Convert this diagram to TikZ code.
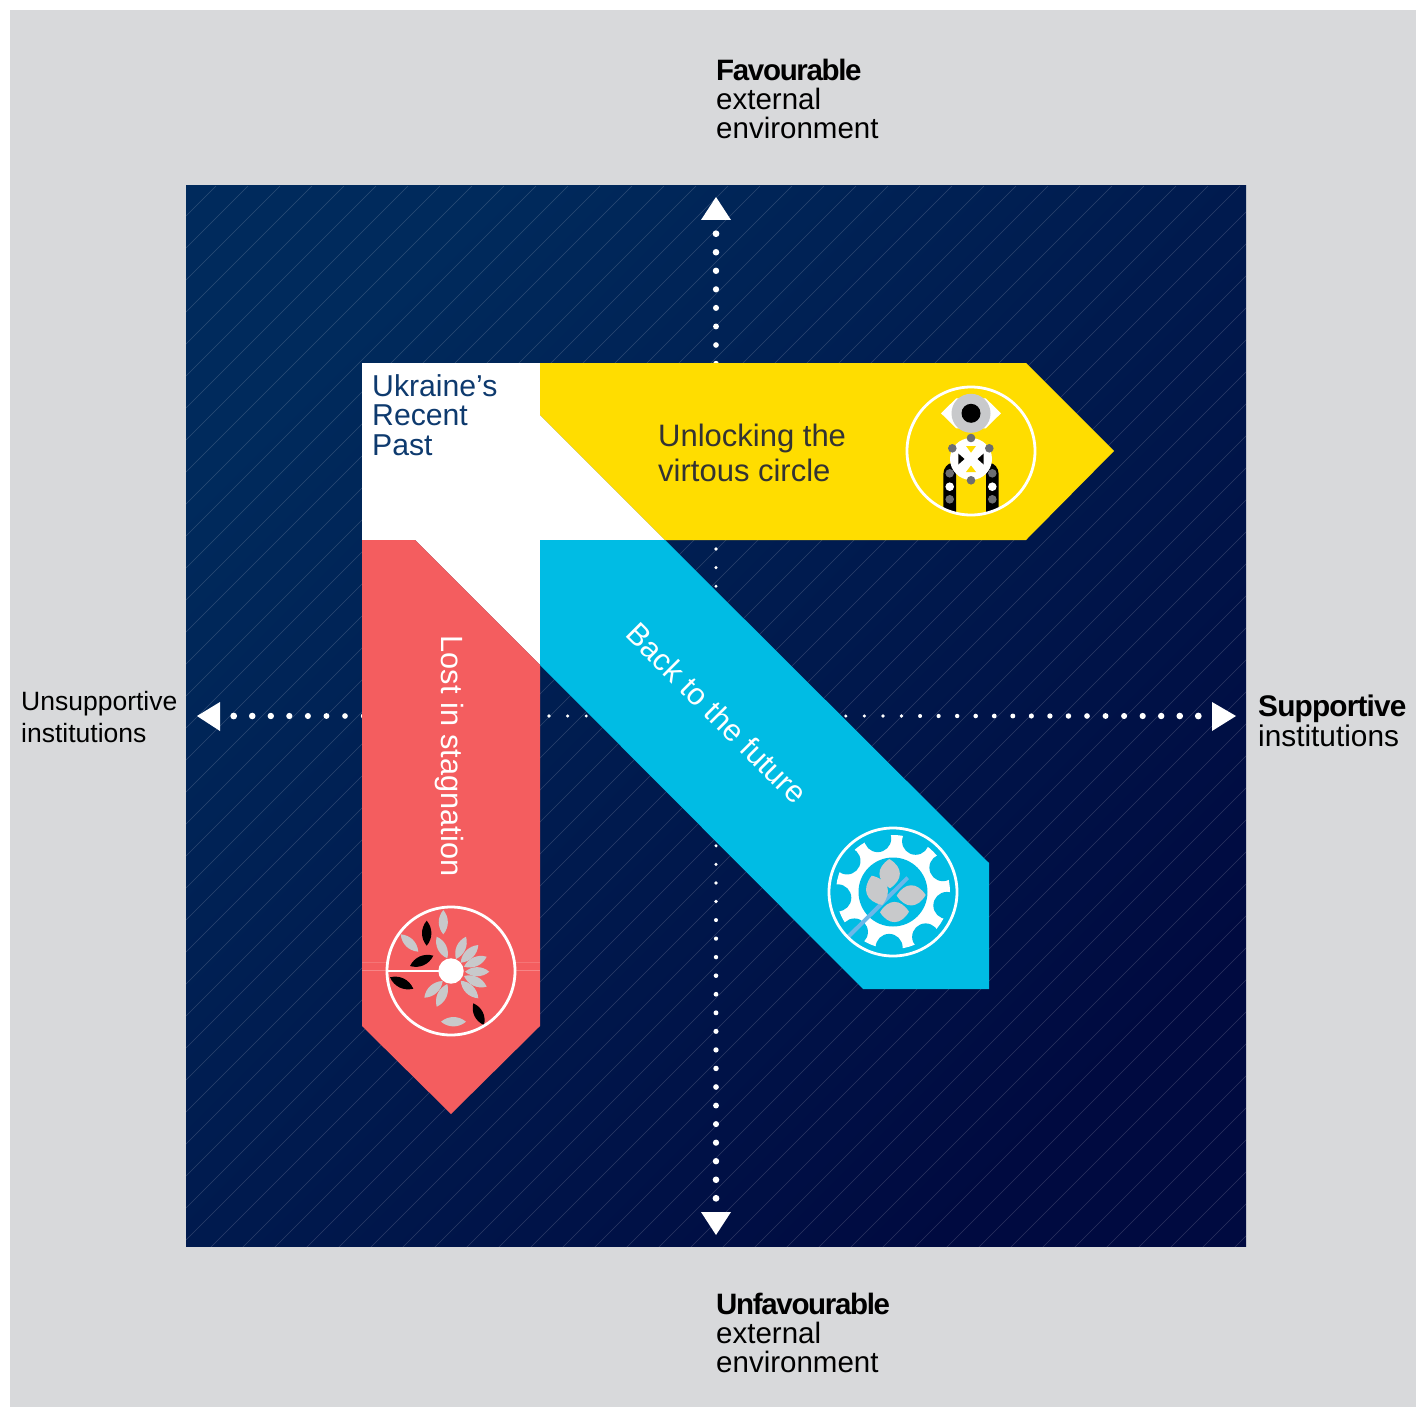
\documentclass[tikz,border=0pt]{standalone}
\usepackage{fontspec}
\setmainfont{Liberation Sans}
\newfontfamily\tightfont[LetterSpace=-4.5]{Liberation Sans}
\newfontfamily\looserfont[LetterSpace=-2.8]{Liberation Sans}
\definecolor{paper}{HTML}{D8D9DB}
\definecolor{navytop}{HTML}{002A5C}
\definecolor{navybot}{HTML}{000A40}
\definecolor{past}{HTML}{0E3A6E}
\definecolor{sun}{HTML}{FFDD00}
\definecolor{sky}{HTML}{00BCE4}
\definecolor{coral}{HTML}{F45D5F}
\definecolor{petal}{HTML}{C8C9CB}
\definecolor{stud}{HTML}{6D6E71}
\definecolor{stripe}{HTML}{6CB7E8}
\newcommand{\leaf}[3]{\fill[#3] #1 to[bend left=40] #2 to[bend left=40] #1;}
\newcommand{\seed}[2]{\fill[petal] #1 to[bend left=58,looseness=1.4] #2 to[bend left=58,looseness=1.4] #1;}
\begin{document}
\begin{tikzpicture}[x=1pt, y=-1pt,
    axislabel/.style = {anchor=north west, inner sep=0, align=left, font=\fontsize{29.5}{29.2}\selectfont},
    sidelabel/.style = {anchor=north west, inner sep=0, align=left, font=\fontsize{26.5}{32.5}\selectfont},
    ring/.style = {draw=white, line width=2.8pt}]
    \useasboundingbox (0,0) rectangle (1424,1407);
    \fill[white] (0,0) rectangle (1424,1407);
    \fill[paper] (10,10) rectangle (1416,1407);
    \fill[top color=navytop, bottom color=navybot, shading angle=45] (186,186) rectangle (1246,1246);
    \begin{scope}
        \clip (186,186) rectangle (1246,1246);
        \foreach \k in {0,...,65} {
            \pgfmathsetmacro\s{402+32*\k}
            \draw[white, opacity=.17, line width=.6pt] (\s-186,186) -- (186,\s-186);
        }
    \end{scope}
    % axes
    \foreach \k in {1,...,26} {
        \pgfmathsetmacro\rad{1+.092*\k}
        \fill[white] (716+18.55*\k,716) circle[radius=\rad];
        \fill[white] (716-18.55*\k,716) circle[radius=\rad];
        \fill[white] (716,716+18.55*\k) circle[radius=\rad];
        \fill[white] (716,716-18.55*\k) circle[radius=\rad];
    }
    \fill[white] (716,197) -- (731,220) -- (701,220) -- cycle;
    \fill[white] (716,1235) -- (731,1212) -- (701,1212) -- cycle;
    \fill[white] (197,716) -- (220,702) -- (220,731) -- cycle;
    \fill[white] (1236,716) -- (1212,702) -- (1212,731) -- cycle;
    % bands
    \fill[white] (362,363) -- (540,363) -- (540,415) -- (665,540) -- (540,540) -- (540,665) -- (415,540) -- (362,540) -- cycle;
    \fill[sun] (540,363) -- (1026,363) -- (1114,451) -- (1026,540) -- (665,540) -- (540,415) -- cycle;
    \fill[sky] (540,540) -- (665,540) -- (989,863) -- (989,989) -- (863,989) -- (540,665) -- cycle;
    \fill[coral] (362,540) -- (415,540) -- (540,665) -- (540,1026) -- (451,1114) -- (362,1026) -- cycle;
    \draw[white, opacity=.15, line width=.5pt] (362,962) -- (387,962) (515,962) -- (540,962);
    \draw[white, opacity=.25, line width=.5pt] (362,970) -- (387,970) (515,970) -- (540,970);
    % yellow icon
    \begin{scope}
        \clip (971,451) circle[radius=64];
        \fill[black] (943.3,520) -- (943.3,474) .. controls (943.3,468) and (948,463) .. (952,463) -- (956,470) -- (956,520) -- cycle;
        \fill[black] (998.7,520) -- (998.7,474) .. controls (998.7,468) and (994,463) .. (990,463) -- (986,470) -- (986,520) -- cycle;
    \end{scope}
    \fill[white] (941,413.3) -- (956.3,398.3) -- (985.7,398.3) -- (1001,413.3) -- (985.7,428.3) -- (956.3,428.3) -- cycle;
    \fill[petal] (971,413.3) circle[radius=19.5];
    \fill[black] (971,413.3) circle[radius=9.5];
    \fill[white] (971,459) circle[radius=21];
    \fill[sun] (966,446) -- (976,446) -- (971,452.7) -- cycle;
    \fill[sun] (966,472) -- (976,472) -- (971,465.5) -- cycle;
    \fill[black] (958.3,453.5) -- (958.3,464.5) -- (964.5,459) -- cycle;
    \fill[black] (983.7,453.5) -- (983.7,464.5) -- (977.5,459) -- cycle;
    \foreach \p in {(971,438),(952.3,448.3),(989.3,448.3),(971,480.3),(949.7,473.3),(949.7,499.3),(992.3,473.3),(992.3,499.3)}
        \fill[stud] \p circle[radius=4.3];
    \foreach \p in {(949.7,486.7),(992.3,486.7)}
        \fill[white] \p circle[radius=4.3];
    \draw[ring] (971,451) circle[radius=64];
    % blue icon
    \fill[white] (893,892) circle[radius=57];
    \foreach \a in {66,26,-14,-54,-94,-134,-174,146,106}
        \fill[sky] (893,892) ++(\a:55.5 and -55.5) circle[radius=13.5];
    \fill[sky] (893,892) circle[radius=34.5];
    \draw[stripe, line width=4pt] (848.3,936.7) -- (907.7,877.7);
    \seed{(889.3,859)}{(890,888.3)}
    \seed{(871.7,875.7)}{(882.3,905)}
    \seed{(896.7,895.7)}{(925.7,895)}
    \seed{(880,912.3)}{(909,911.7)}
    \draw[ring] (893,892) circle[radius=64];
    % red icon
    \leaf{(443.3,910)}{(443.3,934.3)}{petal}
    \leaf{(400.7,934.3)}{(418.3,951.7)}{petal}
    \leaf{(436.7,936.7)}{(447.3,958.3)}{petal}
    \leaf{(466,936.7)}{(456,959)}{petal}
    \leaf{(478.3,945)}{(460.7,962.7)}{petal}
    \leaf{(486.7,956.7)}{(464,966.7)}{petal}
    \leaf{(489.3,971.7)}{(465,971.7)}{petal}
    \leaf{(486.7,986.7)}{(464,976)}{petal}
    \leaf{(478.3,998.3)}{(460.7,980.7)}{petal}
    \leaf{(424.3,997.7)}{(442.7,981)}{petal}
    \leaf{(436.7,1006.7)}{(447.3,984)}{petal}
    \leaf{(441,1021.7)}{(466,1021.7)}{petal}
    \leaf{(426.7,920.7)}{(426.7,945.7)}{black}
    \leaf{(410,966)}{(433.3,955.7)}{black}
    \leaf{(390,977.3)}{(413.3,988.7)}{black}
    \leaf{(473.3,1003.3)}{(484,1025)}{black}
    \draw[white, line width=2.6pt] (387,971) -- (451,971);
    \fill[white] (451,971) circle[radius=12.7];
    \draw[ring] (451,971) circle[radius=64];
    % labels
    \node[axislabel] (fav) at (716,59) {{\bfseries\tightfont Favourable}\\external\\environment};
    \node[axislabel] (unfav) at (716,1293) {{\bfseries\tightfont Unfavourable}\\external\\environment};
    \node[axislabel, font=\fontsize{29.8}{29.8}\selectfont] (supp) at (1258,695) {{\bfseries\looserfont Supportive}\\institutions};
    \node[sidelabel] (unsupp) at (21,691) {Unsupportive\\institutions};
    \node[axislabel, text=past, font=\fontsize{30.2}{29.5}\selectfont] (past) at (372,374) {Ukraine’s\\Recent\\Past};
    \node[anchor=north west, inner sep=0, align=left, text=black!80, font=\fontsize{31}{35}\selectfont] (sunband) at (658,424) {Unlocking the\\virtous circle};
    \node[rotate=-90, white, inner sep=0, font=\fontsize{30.7}{30.7}\selectfont] (coralband) at (449,756) {Lost in stagnation};
    \node[rotate=-45, white, inner sep=0, font=\fontsize{30.6}{30.6}\selectfont] (skyband) at (717,713) {Back to the future};
\end{tikzpicture}
\end{document}
